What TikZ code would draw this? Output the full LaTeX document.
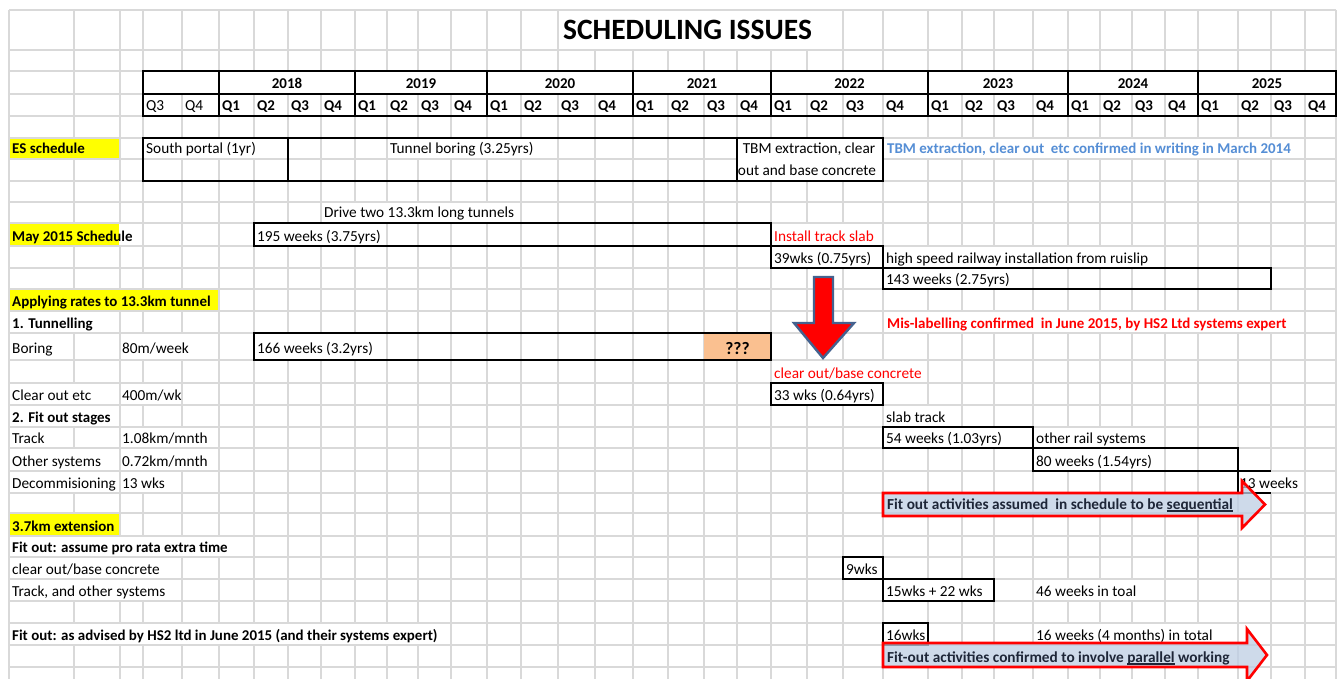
\documentclass[tikz,border=0pt]{standalone}
\usepackage{fontspec}
\setmainfont{Carlito}
\definecolor{gridgray}{RGB}{217,217,217}
\definecolor{hlyellow}{RGB}{255,255,0}
\definecolor{peach}{RGB}{250,192,144}
\definecolor{noteblue}{RGB}{85,142,213}
\definecolor{arrowblue}{RGB}{190,206,228}
\definecolor{arrowedge}{RGB}{68,98,143}
\definecolor{arrowtext}{RGB}{30,38,56}
\newcommand\fs{\fontsize{15.3}{18}\selectfont}
\newcommand\fsb{\fontsize{14.95}{18}\selectfont\bfseries}
\newcommand\ulword[1]{{\setbox0\hbox{#1}\rlap{\rule[-2.6pt]{\wd0}{1.3pt}}\box0}}
\newcommand\hidecells[4]{\fill[white] ({#1+0.7},{#3+0.7}) rectangle ({#2-0.7},{#4-0.7});}
\newcommand\yellowcell[4]{\fill[hlyellow] ({#1+0.6},{#3+0.6}) rectangle ({#2-0.6},{#4-0.6});}
\tikzset{
  gridline/.style={draw=gridgray, line width=1.3},
  boxline/.style={draw=black, line width=2.6},
  tx/.style={anchor=base west, inner sep=0pt, font=\fs},
  txb/.style={anchor=base west, inner sep=0pt, font=\fsb},
  txc/.style={anchor=base, inner sep=0pt, font=\fs},
  arrowbox/.style={draw=red, line width=2.6, fill=arrowblue, fill opacity=0.75, line join=miter},
  arrowlabel/.style={anchor=base west, inner sep=0pt, font=\fontsize{15.3}{18}\selectfont\bfseries, text=arrowtext},
}
\begin{document}
\begin{tikzpicture}[x=1pt, y=-1pt]
\useasboundingbox (0,0) rectangle (1341,679);
\clip (0,0) rectangle (1341,679);
\fill[white] (0,0) rectangle (1341,679);
% grid
\foreach \x in {9,74,120,143,182,219,254,288,321,355,387,418,451,487,521,558,595,633,668,704,737,771,807,843,883,928,962,994,1033,1068,1100,1132,1165,1198,1238,1271,1305,1336}
  \draw[gridline] (\x,10) -- (\x,679);
\foreach \y in {10,50,71,94,116,138,159,181,202,223,246,268,289,311,333,360,383,405,427,448,471,493,513,536,557,579,601,623,645,667}
  \draw[gridline] (9,\y) -- (1336,\y);
% hidden grid lines under overflowing text
\hidecells{559}{842}{10}{50}
\hidecells{143}{1336}{71}{94}
\hidecells{143}{288}{138}{159}
\hidecells{387}{558}{138}{159}
\hidecells{737}{883}{138}{181}
\hidecells{883}{1305}{138}{159}
\hidecells{321}{521}{202}{223}
\hidecells{9}{143}{223}{246}
\hidecells{254}{387}{223}{246}
\hidecells{771}{883}{223}{246}
\hidecells{771}{883}{246}{268}
\hidecells{883}{1165}{246}{268}
\hidecells{883}{1033}{268}{289}
\hidecells{9}{120}{311}{333}
\hidecells{883}{1305}{311}{333}
\hidecells{120}{219}{333}{360}
\hidecells{254}{387}{333}{360}
\hidecells{771}{928}{360}{383}
\hidecells{9}{120}{383}{405}
\hidecells{120}{182}{383}{405}
\hidecells{771}{883}{383}{405}
\hidecells{9}{120}{405}{427}
\hidecells{883}{962}{405}{427}
\hidecells{120}{219}{427}{448}
\hidecells{883}{1033}{427}{448}
\hidecells{1033}{1165}{427}{448}
\hidecells{9}{120}{448}{471}
\hidecells{120}{219}{448}{471}
\hidecells{1033}{1165}{448}{471}
\hidecells{9}{120}{471}{493}
\hidecells{120}{182}{471}{493}
\hidecells{1238}{1305}{471}{493}
\hidecells{883}{1238}{493}{513}
\hidecells{9}{254}{536}{557}
\hidecells{9}{182}{557}{579}
\hidecells{9}{182}{579}{601}
\hidecells{883}{994}{579}{601}
\hidecells{1033}{1165}{579}{601}
\hidecells{9}{451}{623}{645}
\hidecells{1033}{1238}{623}{645}
\hidecells{883}{1238}{645}{667}
% yellow highlights
\yellowcell{9}{120}{138}{159}
\yellowcell{9}{120}{223}{246}
\yellowcell{9}{219}{289}{311}
\yellowcell{9}{120}{513}{536}
% peach cell
\fill[peach] (704,333) rectangle (771,360);
% black boxes
\draw[boxline] (143,71) rectangle (1336,116);
\draw[boxline] (143,94) -- (1336,94);
\foreach \x in {219,355,487,633,771,928,1068,1198}
  \draw[boxline] (\x,71) -- (\x,116);
\draw[boxline] (143,138) rectangle (883,181);
\draw[boxline] (288,138) -- (288,181);
\draw[boxline] (737,138) -- (737,181);
\draw[boxline] (254,223) rectangle (771,246);
\draw[boxline] (771,246) rectangle (883,268);
\draw[boxline] (883,268) rectangle (1271,289);
\draw[boxline] (254,333) rectangle (771,360);
\draw[boxline] (771,383) rectangle (883,405);
\draw[boxline] (883,427) rectangle (1033,448);
\draw[boxline] (1033,448) rectangle (1238,471);
\draw[boxline] (1271,471) -- (1238,471) -- (1238,493) -- (1271,493);
\draw[boxline] (843,557) rectangle (883,579);
\draw[boxline] (883,579) rectangle (994,601);
\draw[boxline] (883,623) rectangle (928,645);
% title
\node[anchor=base, inner sep=0pt, font=\fontsize{29.5}{32}\selectfont\bfseries] (title) at (687.5,40) {SCHEDULING ISSUES};
% header
\foreach \yr/\cx in {2018/287,2019/421,2020/560,2021/702,2022/849.5,2023/998,2024/1133,2025/1267}
  \node[txc, font=\fsb] (y\yr) at (\cx,89) {\yr};
\node[tx] (qa) at (146,110.5) {Q3};
\node[tx] (qb) at (185,110.5) {Q4};
\foreach \x [count=\i from 0] in {219,254,288,321,355,387,418,451,487,521,558,595,633,668,704,737,771,807,843,883,928,962,994,1033,1068,1100,1132,1165,1198,1238,1271,1305} {
  \pgfmathtruncatemacro\q{mod(\i,4)+1}
  \node[txb] (q\i) at (\x+3,110.5) {Q\q};
}
% ES schedule
\node[txb] (es) at (12,154) {ES schedule};
\node[tx] (south) at (146,154) {South portal (1yr)};
\node[tx] (tunnel) at (390,154) {Tunnel boring (3.25yrs)};
\node[txc] (tbma) at (809,154) {TBM extraction, clear};
\node[txc] (tbmb) at (807,176) {out and base concrete};
\node[txb, text=noteblue] (confirm) at (887,154) {TBM extraction, clear out\ \ etc confirmed in writing in March 2014};
% May 2015
\node[tx] (drive) at (324,218) {Drive two 13.3km long tunnels};
\node[txb] (may) at (12,241) {May 2015 Schedule};
\node[tx] (wa) at (257,241) {195 weeks (3.75yrs)};
\node[tx, text=red] (slab) at (774,241) {Install track slab};
\node[tx] (wb) at (774,263) {39wks (0.75yrs)};
\node[tx] (hsr) at (886,263) {high speed railway installation from ruislip};
\node[tx] (wc) at (886,284) {143 weeks (2.75yrs)};
% Applying rates
\node[txb] (apply) at (12,306) {Applying rates to 13.3km tunnel};
\node[txb] (tun) at (12,328) {1. Tunnelling};
\node[txb, text=red] (mislabel) at (887,328) {Mis-labelling confirmed\ \ in June 2015, by HS2 Ltd systems expert};
\node[tx] (boring) at (12,353.5) {Boring};
\node[tx] (ra) at (122,353.5) {80m/week};
\node[tx] (wd) at (257,353.5) {166 weeks (3.2yrs)};
\node[anchor=base, inner sep=0pt, font=\fontsize{17.5}{20}\selectfont\bfseries] (qqq) at (737.5,354) {???};
\node[tx, text=red] (cobc) at (774,378) {clear out/base concrete};
\node[tx] (clear) at (12,400) {Clear out etc};
\node[tx] (rb) at (122,400) {400m/wk};
\node[tx] (we) at (774,400) {33 wks (0.64yrs)};
\node[txb] (fitstages) at (12,422) {2. Fit out stages};
\node[tx] (slabtrack) at (886,422) {slab track};
\node[tx] (track) at (12,443) {Track};
\node[tx] (rc) at (122,443) {1.08km/mnth};
\node[tx] (wf) at (886,443) {54 weeks (1.03yrs)};
\node[tx] (orail) at (1036,443) {other rail systems};
\node[tx] (osys) at (12,466) {Other systems};
\node[tx] (rd) at (122,466) {0.72km/mnth};
\node[tx] (wg) at (1036,466) {80 weeks (1.54yrs)};
\node[tx] (decom) at (12,488) {Decommisioning};
\node[tx] (re) at (122,488) {13 wks};
\node[tx] (wh) at (1240,488) {13 weeks};
% 3.7km extension
\node[txb] (ext) at (12,531) {3.7km extension};
\node[txb] (prorata) at (12,552) {Fit out: assume pro rata extra time};
\node[tx] (cobcb) at (12,574) {clear out/base concrete};
\node[tx] (wi) at (846,574) {9wks};
\node[tx] (tos) at (12,596) {Track, and other systems};
\node[tx] (wj) at (886,596) {15wks + 22 wks};
\node[tx] (wk) at (1036,596) {46 weeks in toal};
\node[txb] (advised) at (12,640) {Fit out: as advised by HS2 ltd in June 2015 (and their systems expert)};
\node[tx] (wl) at (886,640) {16wks};
\node[tx] (wm) at (1036,640) {16 weeks (4 months) in total};
% big red arrow
\draw[line width=2.4, draw=arrowedge, fill=red, line join=miter]
  (814,277) -- (833,277) -- (833,323) -- (854,323) -- (823,358) -- (794,323) -- (814,323) -- cycle;
% horizontal arrows
\draw[arrowbox] (883,493) -- (1242,493) -- (1242,481) -- (1265,504.5) -- (1242,528) -- (1242,516) -- (883,516) -- cycle;
\draw[arrowbox] (883,643) -- (1247,643) -- (1247,629) -- (1267,655) -- (1247,681) -- (1247,667) -- (883,667) -- cycle;
\node[arrowlabel] (seq) at (887,509) {Fit out activities assumed\ \ in schedule to be \ulword{sequential}};
\node[arrowlabel] (par) at (887,662) {Fit-out activities confirmed to involve \ulword{parallel} working};
\end{tikzpicture}
\end{document}
